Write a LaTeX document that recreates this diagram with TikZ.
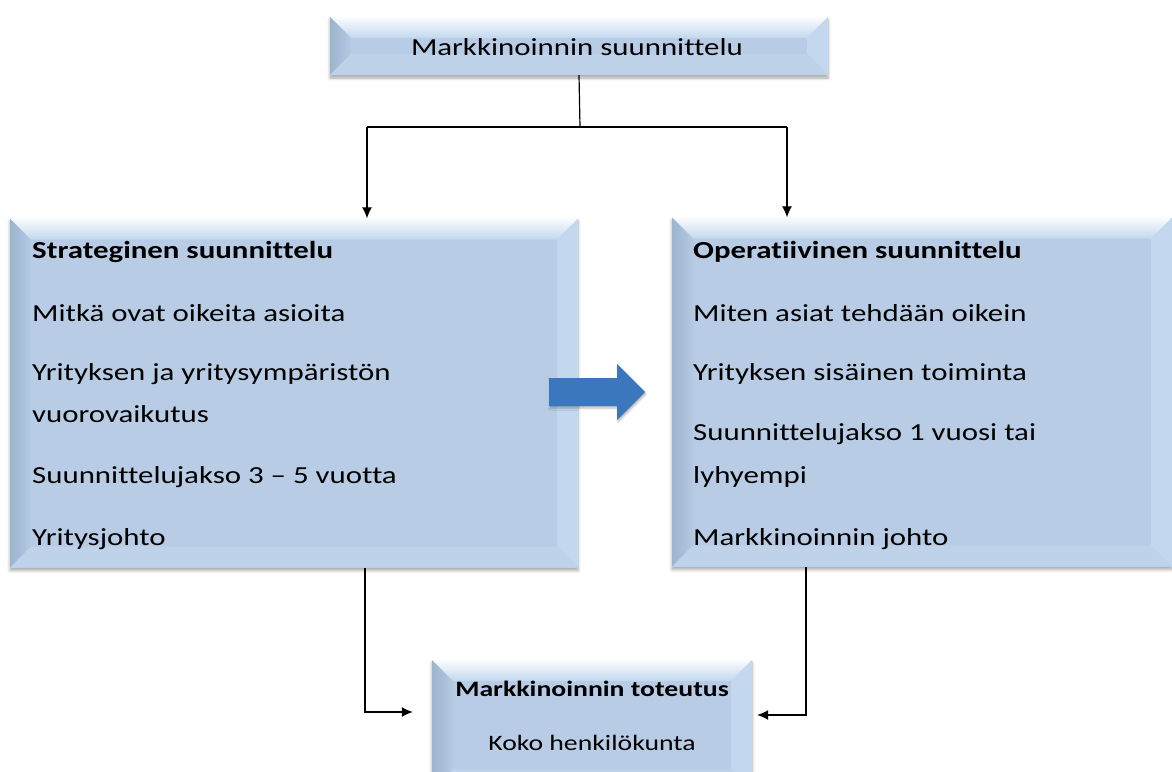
\documentclass[tikz,border=0pt]{standalone}
\usepackage{fontspec}
\setmainfont{Carlito}[FakeStretch=1.26, Ligatures={NoCommon}]
\usetikzlibrary{arrows.meta,calc,shadows.blur}

\definecolor{face}{HTML}{B8CDE5}
\definecolor{bevtop}{HTML}{C3D8EE}
\definecolor{bevleftout}{HTML}{9DB4CF}
\definecolor{bevleftin}{HTML}{B4C9E2}
\definecolor{bevright}{HTML}{C3D8EF}
\definecolor{bevbot}{HTML}{BED3EA}
\definecolor{flowblue}{HTML}{3B77BC}

\newcommand\bw{21}

\tikzset{
  bevelbox/.style={
    rectangle, inner sep=0pt, fill=face,
    blur shadow={shadow xshift=0pt, shadow yshift=-3pt, shadow blur radius=3pt, shadow opacity=35},
    path picture={
      \coordinate (bbnw) at (path picture bounding box.north west);
      \coordinate (bbne) at (path picture bounding box.north east);
      \coordinate (bbsw) at (path picture bounding box.south west);
      \coordinate (bbse) at (path picture bounding box.south east);
      % top bevel: bright highlight fading into the face
      \shade[top color=white!92!bevtop, bottom color=bevtop]
        (bbnw) -- (bbne) -- ($(bbne)+(-\bw,\bw)$) -- ($(bbnw)+(\bw,\bw)$) -- cycle;
      % left bevel: darker side
      \shade[left color=bevleftout, right color=bevleftin]
        (bbnw) -- ($(bbnw)+(\bw,\bw)$) -- ($(bbsw)+(\bw,-\bw)$) -- (bbsw) -- cycle;
      % right bevel
      \fill[bevright]
        (bbne) -- (bbse) -- ($(bbse)+(-\bw,-\bw)$) -- ($(bbne)+(-\bw,\bw)$) -- cycle;
      % bottom bevel
      \fill[bevbot]
        (bbsw) -- ($(bbsw)+(\bw,-\bw)$) -- ($(bbse)+(-\bw,-\bw)$) -- (bbse) -- cycle;
    }
  },
  txt/.style={anchor=base west, inner sep=0pt, font=\fontsize{24.5}{29}\selectfont},
  btxt/.style={txt, font=\fontsize{24.5}{29}\selectfont\bfseries},
  ctxt/.style={anchor=base, inner sep=0pt, font=\fontsize{22}{26}\selectfont},
  link/.style={draw=black, line width=1.2pt, -{Latex[length=11pt,width=10pt]}},
  plain/.style={draw=black, line width=1.2pt}
}

\begin{document}
\begin{tikzpicture}[x=1pt,y=-1pt]
  \useasboundingbox (0,0) rectangle (1172,771);

  % boxes
  \node[bevelbox, minimum width=498pt, minimum height=58pt] (top) at (579,46) {};
  \node[bevelbox, minimum width=568pt, minimum height=349pt] (strat) at (294,393) {};
  \node[bevelbox, minimum width=500pt, minimum height=349pt] (oper) at (922,392) {};
  \node[bevelbox, minimum width=320pt, minimum height=130pt] (exec) at (592,725) {};

  % labels
  \node[anchor=base, inner sep=0pt, font=\fontsize{24.5}{29}\selectfont] (toplbl) at (577,55) {Markkinoinnin suunnittelu};

  \node[btxt] (s1) at (32,258) {Strateginen suunnittelu};
  \node[txt]  (s2) at (32,321) {Mitkä ovat oikeita asioita};
  \node[txt]  (s3) at (32,380) {Yrityksen ja yritysympäristön};
  \node[txt]  (s4) at (32,422) {vuorovaikutus};
  \node[txt]  (s5) at (32,483) {Suunnittelujakso 3 – 5 vuotta};
  \node[txt]  (s6) at (32,545) {Yritysjohto};

  \node[btxt] (o1) at (693,258) {Operatiivinen suunnittelu};
  \node[txt]  (o2) at (693,321) {Miten asiat tehdään oikein};
  \node[txt]  (o3) at (693,380) {Yrityksen sisäinen toiminta};
  \node[txt]  (o4) at (693,440) {Suunnittelujakso 1 vuosi tai};
  \node[txt]  (o5) at (693,483) {lyhyempi};
  \node[txt]  (o6) at (693,545) {Markkinoinnin johto};

  \node[ctxt, font=\fontsize{22}{26}\selectfont\bfseries] (e1) at (592,696) {Markkinoinnin toteutus};
  \node[ctxt] (e2) at (592,750) {Koko henkilökunta};

  % block arrow between the planning levels
  \fill[flowblue, blur shadow={shadow xshift=1pt, shadow yshift=-2pt, shadow blur radius=2pt, shadow opacity=30}]
    (549,378) -- (617,378) -- (617,364) -- (645,392) -- (617,420) -- (617,406) -- (549,406) -- cycle;

  % connectors
  \coordinate (split) at (580,127);
  \coordinate (jl) at (367,127);
  \coordinate (jr) at (787,127);
  \draw[plain] (top.south) -- (split);
  \draw[plain] (jl) -- (jr);
  \draw[link] (jl) -- (jl |- strat.north);
  \draw[link] (jr) -- (jr |- oper.north);

  \coordinate (sl) at (365,568);
  \coordinate (sr) at (806,567);
  \draw[link, shorten >=19pt] (sl) |- (exec.west |- 0,712);
  \draw[link, shorten >=5pt] (sr) |- (exec.east |- 0,715);
\end{tikzpicture}
\end{document}
